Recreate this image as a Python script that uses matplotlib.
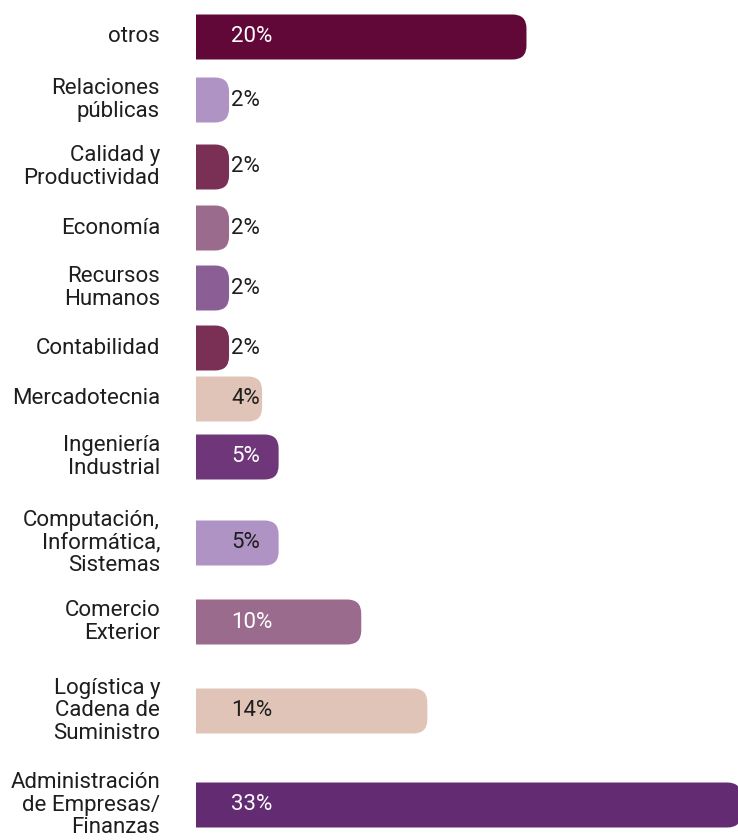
import matplotlib
matplotlib.use('Agg')
import matplotlib.pyplot as plt
from matplotlib.path import Path
from matplotlib.patches import PathPatch

plt.rcParams['font.family'] = ['Roboto', 'DejaVu Sans']

# data
categories = ['otros', 'Relaciones\npúblicas', 'Calidad y\nProductividad', 'Economía',
              'Recursos\nHumanos', 'Contabilidad', 'Mercadotecnia', 'Ingeniería\nIndustrial',
              'Computación,\nInformática,\nSistemas', 'Comercio\nExterior',
              'Logística y\nCadena de\nSuministro', 'Administración\nde Empresas/\nFinanzas']
values = [20, 2, 2, 2, 2, 2, 4, 5, 5, 10, 14, 33]
labels = ['20%', '2%', '2%', '2%', '2%', '2%', '4%', '5%', '5%', '10%', '14%', '33%']

# layout / style
ypos = [37, 100, 167, 228, 288, 348, 399, 457, 543, 622, 711, 805]
colors = ['#620838', '#b093c5', '#7a3055', '#9b6b8d', '#8c5e96', '#7a3055',
          '#e0c4b8', '#6f367a', '#b093c5', '#9b6b8d', '#e0c4b8', '#632b72']
txt_colors = ['white', '#1e1e1e', '#1e1e1e', '#1e1e1e', '#1e1e1e', '#1e1e1e',
              '#1e1e1e', 'white', '#1e1e1e', 'white', '#1e1e1e', 'white']

W, H = 738, 840
left_px = 196
xmax = 32.8
px_per = (W - left_px) / xmax
bar_h = 45
r_px = 14

fig = plt.figure(figsize=(W / 100, H / 100), dpi=100)
ax = fig.add_axes([left_px / W, 0, 1 - left_px / W, 1])
ax.set_xlim(0, xmax)
ax.set_ylim(H, 0)
ax.axis('off')

rx = r_px / px_per
ry = r_px
for v, yc, c in zip(values, ypos, colors):
    y0 = yc - bar_h / 2
    y1 = yc + bar_h / 2
    verts = [(0, y0), (v - rx, y0), (v, y0), (v, y0 + ry), (v, y1 - ry),
             (v, y1), (v - rx, y1), (0, y1), (0, y0)]
    codes = [Path.MOVETO, Path.LINETO, Path.CURVE3, Path.CURVE3, Path.LINETO,
             Path.CURVE3, Path.CURVE3, Path.LINETO, Path.CLOSEPOLY]
    ax.add_patch(PathPatch(Path(verts, codes), facecolor=c, edgecolor='none', clip_on=False))

lab_x = (231 - left_px) / px_per
for lab, yc, tc in zip(labels, ypos, txt_colors):
    ax.text(lab_x, yc, lab, color=tc, fontsize=16, va='center', ha='left')

cat_x = (160 - left_px) / px_per
for cat, yc in zip(categories, ypos):
    ax.text(cat_x, yc, cat, color='#1e1e1e', fontsize=16, va='center', ha='right',
            multialignment='right', linespacing=1.1, clip_on=False)

fig.savefig('out.png', dpi=100)
